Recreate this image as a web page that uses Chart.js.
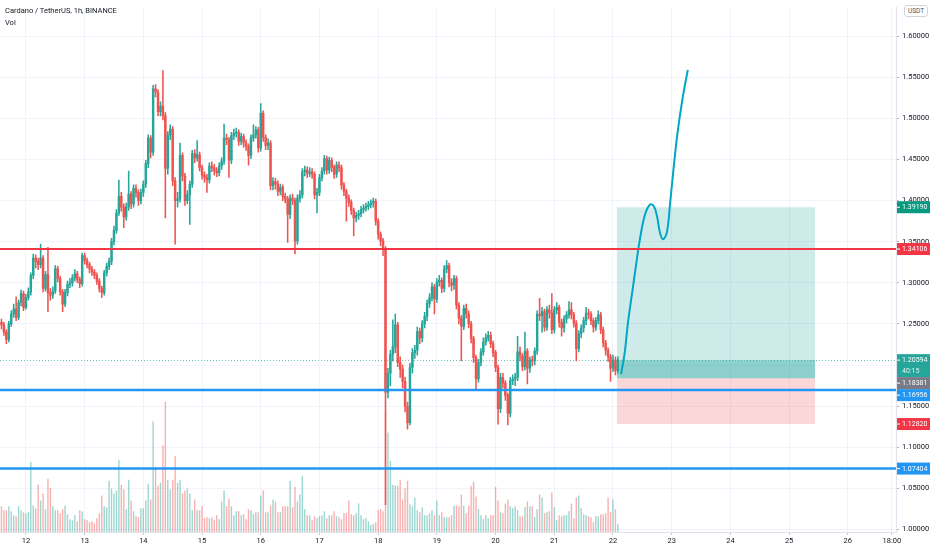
<!DOCTYPE html>
<html>
<head>
<meta charset="utf-8">
<title>Cardano / TetherUS 1h</title>
<script src="https://cdn.jsdelivr.net/npm/chart.js@4.4.1/dist/chart.umd.min.js"></script>
<style>
  html, body { margin: 0; padding: 0; background: #fff; }
  #wrap { position: relative; width: 932px; height: 550px; }
  #title { position: absolute; left: 5px; top: 5px; font: 7.5px Roboto, sans-serif; color: #131722; line-height: 12px; }
  #usdt { position: absolute; left: 904px; top: 5px; padding: 1px 3px; border: 1px solid #d1d4dc; border-radius: 3px;
          font: 6.5px Roboto, sans-serif; color: #50535e; background: #fff; }
</style>
</head>
<body>
<div id="wrap">
  <canvas id="chart"></canvas>
  <div id="title">Cardano / TetherUS, 1h, BINANCE<br>Vol</div>
  <div id="usdt">USDT</div>
</div>
<script>
    "use strict";

    // 1h candles, index 0 = the 11th 14:00, index 10 = the 12th 00:00
    var firstOpen = 1.252;
    var closes = [
        1.249, 1.240, 1.231, 1.250, 1.262, 1.268, 1.258, 1.276, 1.287, 1.270,
        1.282, 1.289, 1.309, 1.330, 1.326, 1.322, 1.330, 1.293, 1.310, 1.288,
        1.285, 1.290, 1.317, 1.305, 1.289, 1.274, 1.288, 1.298, 1.300, 1.306,
        1.311, 1.304, 1.299, 1.333, 1.327, 1.322, 1.317, 1.313, 1.309, 1.302,
        1.293, 1.288, 1.312, 1.320, 1.326, 1.350, 1.364, 1.385, 1.405, 1.392,
        1.380, 1.392, 1.408, 1.396, 1.415, 1.410, 1.400, 1.410, 1.420, 1.445,
        1.476, 1.459, 1.536, 1.532, 1.508, 1.515, 1.503, 1.439, 1.480, 1.487,
        1.424, 1.400, 1.402, 1.455, 1.430, 1.400, 1.407, 1.420, 1.457, 1.452,
        1.456, 1.440, 1.431, 1.428, 1.425, 1.442, 1.440, 1.436, 1.434, 1.442,
        1.448, 1.476, 1.474, 1.449, 1.479, 1.482, 1.483, 1.472, 1.478, 1.470,
        1.466, 1.455, 1.476, 1.480, 1.486, 1.464, 1.506, 1.477, 1.467, 1.470,
        1.418, 1.423, 1.420, 1.411, 1.416, 1.405, 1.402, 1.383, 1.403, 1.400,
        1.351, 1.403, 1.407, 1.435, 1.437, 1.433, 1.435, 1.432, 1.407, 1.410,
        1.428, 1.436, 1.451, 1.437, 1.449, 1.440, 1.432, 1.443, 1.440, 1.419,
        1.411, 1.403, 1.398, 1.388, 1.379, 1.382, 1.384, 1.389, 1.391, 1.393,
        1.395, 1.397, 1.399, 1.375, 1.359, 1.351, 1.341, 1.167, 1.190, 1.213,
        1.222, 1.249, 1.203, 1.195, 1.180, 1.150, 1.130, 1.197, 1.215, 1.218,
        1.241, 1.233, 1.250, 1.259, 1.275, 1.282, 1.295, 1.280, 1.301, 1.303,
        1.293, 1.317, 1.321, 1.300, 1.297, 1.305, 1.273, 1.257, 1.247, 1.269,
        1.262, 1.250, 1.232, 1.209, 1.183, 1.203, 1.216, 1.228, 1.233, 1.236,
        1.226, 1.215, 1.197, 1.147, 1.185, 1.178, 1.163, 1.141, 1.181, 1.183,
        1.185, 1.216, 1.211, 1.198, 1.217, 1.196, 1.206, 1.205, 1.217, 1.262,
        1.260, 1.265, 1.246, 1.267, 1.263, 1.243, 1.267, 1.270, 1.252, 1.245,
        1.256, 1.261, 1.267, 1.261, 1.251, 1.220, 1.238, 1.245, 1.254, 1.263,
        1.262, 1.254, 1.246, 1.254, 1.261, 1.243, 1.227, 1.218, 1.210, 1.196,
        1.206, 1.193, 1.20594
    ];
    var highs = [
        1.256, 1.252, 1.243, 1.253, 1.266, 1.274, 1.283, 1.279, 1.291, 1.290,
        1.286, 1.294, 1.312, 1.335, 1.334, 1.330, 1.347, 1.333, 1.314, 1.343,
        1.293, 1.295, 1.321, 1.320, 1.308, 1.292, 1.292, 1.302, 1.305, 1.310,
        1.316, 1.314, 1.307, 1.336, 1.336, 1.330, 1.325, 1.320, 1.316, 1.312,
        1.305, 1.296, 1.315, 1.324, 1.330, 1.354, 1.369, 1.389, 1.425, 1.410,
        1.396, 1.397, 1.436, 1.411, 1.419, 1.419, 1.413, 1.414, 1.424, 1.449,
        1.480, 1.479, 1.540, 1.541, 1.535, 1.520, 1.558, 1.507, 1.484, 1.492,
        1.490, 1.428, 1.410, 1.470, 1.458, 1.433, 1.412, 1.424, 1.461, 1.462,
        1.473, 1.459, 1.443, 1.435, 1.432, 1.446, 1.447, 1.444, 1.440, 1.446,
        1.452, 1.493, 1.481, 1.477, 1.483, 1.487, 1.488, 1.486, 1.482, 1.481,
        1.474, 1.469, 1.480, 1.492, 1.490, 1.489, 1.518, 1.509, 1.480, 1.475,
        1.473, 1.428, 1.427, 1.424, 1.420, 1.419, 1.409, 1.405, 1.407, 1.408,
        1.403, 1.407, 1.412, 1.439, 1.442, 1.441, 1.440, 1.439, 1.435, 1.415,
        1.432, 1.440, 1.455, 1.454, 1.453, 1.452, 1.443, 1.447, 1.447, 1.443,
        1.422, 1.414, 1.407, 1.401, 1.391, 1.386, 1.388, 1.393, 1.395, 1.397,
        1.399, 1.401, 1.403, 1.402, 1.378, 1.362, 1.354, 1.344, 1.196, 1.218,
        1.255, 1.262, 1.252, 1.210, 1.200, 1.185, 1.155, 1.202, 1.220, 1.224,
        1.246, 1.245, 1.254, 1.264, 1.279, 1.287, 1.300, 1.298, 1.305, 1.309,
        1.306, 1.321, 1.327, 1.324, 1.305, 1.309, 1.308, 1.276, 1.260, 1.273,
        1.274, 1.266, 1.253, 1.235, 1.212, 1.207, 1.220, 1.233, 1.238, 1.241,
        1.240, 1.229, 1.218, 1.200, 1.190, 1.190, 1.181, 1.166, 1.185, 1.188,
        1.190, 1.235, 1.222, 1.214, 1.240, 1.220, 1.210, 1.211, 1.221, 1.266,
        1.281, 1.270, 1.268, 1.271, 1.273, 1.287, 1.271, 1.276, 1.273, 1.256,
        1.260, 1.265, 1.277, 1.276, 1.264, 1.254, 1.242, 1.249, 1.258, 1.270,
        1.268, 1.265, 1.257, 1.258, 1.266, 1.264, 1.246, 1.230, 1.221, 1.213,
        1.212, 1.210, 1.210
    ];
    var lows = [
        1.244, 1.236, 1.226, 1.228, 1.247, 1.258, 1.254, 1.255, 1.272, 1.266,
        1.268, 1.279, 1.285, 1.305, 1.318, 1.316, 1.318, 1.289, 1.290, 1.265,
        1.279, 1.281, 1.287, 1.301, 1.285, 1.265, 1.271, 1.284, 1.294, 1.296,
        1.302, 1.300, 1.294, 1.296, 1.323, 1.318, 1.312, 1.309, 1.305, 1.298,
        1.289, 1.282, 1.285, 1.308, 1.316, 1.322, 1.346, 1.360, 1.382, 1.387,
        1.367, 1.376, 1.388, 1.390, 1.392, 1.404, 1.394, 1.396, 1.405, 1.416,
        1.440, 1.452, 1.455, 1.526, 1.503, 1.503, 1.498, 1.379, 1.432, 1.474,
        1.418, 1.347, 1.392, 1.398, 1.424, 1.394, 1.396, 1.371, 1.416, 1.446,
        1.448, 1.436, 1.426, 1.422, 1.410, 1.421, 1.435, 1.431, 1.429, 1.430,
        1.438, 1.444, 1.468, 1.428, 1.445, 1.474, 1.477, 1.467, 1.468, 1.465,
        1.461, 1.443, 1.451, 1.472, 1.476, 1.459, 1.460, 1.472, 1.462, 1.462,
        1.413, 1.413, 1.414, 1.406, 1.407, 1.400, 1.397, 1.349, 1.378, 1.395,
        1.335, 1.347, 1.398, 1.403, 1.430, 1.428, 1.429, 1.427, 1.402, 1.385,
        1.406, 1.424, 1.432, 1.432, 1.433, 1.435, 1.427, 1.428, 1.435, 1.414,
        1.406, 1.375, 1.393, 1.383, 1.357, 1.374, 1.377, 1.380, 1.385, 1.387,
        1.389, 1.391, 1.392, 1.370, 1.353, 1.345, 1.333, 1.030, 1.160, 1.175,
        1.205, 1.215, 1.198, 1.185, 1.172, 1.143, 1.122, 1.127, 1.190, 1.208,
        1.212, 1.226, 1.228, 1.245, 1.254, 1.270, 1.278, 1.262, 1.276, 1.296,
        1.288, 1.289, 1.312, 1.295, 1.290, 1.292, 1.268, 1.250, 1.205, 1.243,
        1.257, 1.245, 1.227, 1.203, 1.171, 1.179, 1.199, 1.212, 1.224, 1.229,
        1.221, 1.210, 1.192, 1.128, 1.142, 1.172, 1.157, 1.127, 1.137, 1.176,
        1.175, 1.181, 1.205, 1.193, 1.194, 1.177, 1.191, 1.199, 1.200, 1.213,
        1.254, 1.240, 1.241, 1.242, 1.257, 1.238, 1.239, 1.262, 1.246, 1.235,
        1.240, 1.251, 1.257, 1.256, 1.246, 1.205, 1.216, 1.233, 1.240, 1.249,
        1.256, 1.249, 1.240, 1.242, 1.250, 1.238, 1.222, 1.212, 1.204, 1.180,
        1.192, 1.188, 1.190
    ];
    // volume, arbitrary units (only relative heights matter, axis is hidden)
    var volumes = [
        26, 22, 22, 26, 21, 17, 16, 26, 22, 20,
        19, 20, 71, 27, 24, 48, 32, 39, 23, 54,
        45, 26, 22, 22, 19, 23, 27, 18, 13, 12,
        17, 11, 22, 21, 13, 12, 10, 11, 9, 14,
        19, 37, 26, 25, 52, 44, 39, 42, 73, 48,
        43, 23, 53, 32, 21, 16, 15, 24, 24, 32,
        49, 33, 112, 66, 47, 50, 88, 132, 53, 43,
        53, 77, 50, 53, 39, 42, 44, 39, 22, 33,
        22, 22, 26, 14, 15, 14, 15, 12, 17, 13,
        31, 42, 26, 34, 26, 17, 21, 21, 17, 18,
        13, 23, 22, 18, 20, 20, 37, 42, 20, 20,
        27, 33, 31, 20, 20, 26, 26, 26, 52, 25,
        46, 31, 38, 57, 23, 17, 17, 12, 16, 14,
        16, 17, 21, 14, 17, 17, 21, 16, 15, 13,
        19, 19, 32, 18, 17, 19, 29, 17, 13, 14,
        11, 7, 8, 10, 22, 23, 21, 122, 101, 72,
        48, 47, 47, 53, 33, 44, 52, 28, 26, 35,
        22, 20, 25, 17, 17, 19, 22, 17, 32, 17,
        20, 15, 15, 15, 17, 27, 27, 26, 38, 27,
        19, 27, 47, 51, 36, 23, 17, 13, 17, 14,
        17, 17, 46, 32, 20, 19, 29, 33, 26, 24,
        26, 22, 16, 16, 25, 31, 26, 26, 15, 23,
        38, 35, 19, 20, 21, 40, 25, 12, 17, 16,
        17, 17, 21, 29, 14, 35, 37, 24, 18, 17,
        16, 15, 10, 16, 16, 18, 18, 19, 35, 20,
        33, 23, 8
    ];
    // binance hourly candles open at the previous close
    var opens = [firstOpen].concat(closes.slice(0, -1));

    var dayTickHours = [10, 34, 58, 82, 106, 130, 154, 178, 202, 226, 250, 274, 298, 322, 346, 364];
    var dayLabels = ['12', '13', '14', '15', '16', '17', '18', '19', '20', '21', '22', '23', '24', '25', '26', '18:00'];
    var priceTicks = [1.00, 1.05, 1.10, 1.15, 1.20, 1.25, 1.30, 1.35, 1.40, 1.45, 1.50, 1.55, 1.60];

    // drawn levels
    var redLevels = [1.34106];
    var blueLevels = [1.16956, 1.07404];

    // long position tool
    var positionHours = [251.6, 332.6];
    var targetPrice = 1.39190;
    var entryPrice = 1.18381;
    var stopPrice = 1.12820;
    var lastPrice = 1.20594;
    var countdown = '40:15';

    // hand drawn projection
    var curveHours = [253.3, 254.8, 256.1, 257.8, 259.4, 261.0, 263.1, 265.1, 266.7, 268.0, 269.2, 270.4, 272.0, 273.3, 274.9, 276.5, 278.6, 280.6];
    var curvePrices = [1.189, 1.215, 1.251, 1.287, 1.321, 1.353, 1.383, 1.395, 1.393, 1.381, 1.361, 1.353, 1.361, 1.395, 1.443, 1.485, 1.527, 1.559];

    var UP = '#26a69a', DOWN = '#ef5350';
    var FONT = 'Roboto, sans-serif';

    var hours = closes.map(function (c, i) { return i; });
    var isUp = closes.map(function (c, i) { return c >= opens[i]; });

    // draws the position box, the levels and the price labels on the axis
    var drawings = {
        id: 'drawings',
        beforeDatasetsDraw: function (chart) {
            var ctx = chart.ctx, a = chart.chartArea, x = chart.scales.x, y = chart.scales.y;
            ctx.save();
            ctx.beginPath();
            ctx.rect(a.left, a.top, a.width, a.height);
            ctx.clip();
            var x0 = x.getPixelForValue(positionHours[0]);
            var x1 = x.getPixelForValue(positionHours[1]);
            var yT = y.getPixelForValue(targetPrice);
            var yE = y.getPixelForValue(entryPrice);
            var yS = y.getPixelForValue(stopPrice);
            var yL = y.getPixelForValue(lastPrice);
            ctx.fillStyle = 'rgba(38, 166, 154, 0.22)';
            ctx.fillRect(x0, yT, x1 - x0, yE - yT);
            ctx.fillStyle = 'rgba(38, 166, 154, 0.38)';
            ctx.fillRect(x0, yL, x1 - x0, yE - yL);
            ctx.fillStyle = 'rgba(242, 54, 69, 0.2)';
            ctx.fillRect(x0, yE, x1 - x0, yS - yE);

            // last price line
            ctx.strokeStyle = 'rgba(38, 166, 154, 0.7)';
            ctx.lineWidth = 1;
            ctx.setLineDash([1, 2]);
            ctx.beginPath();
            ctx.moveTo(a.left, Math.round(yL) + 0.5);
            ctx.lineTo(a.right, Math.round(yL) + 0.5);
            ctx.stroke();
            ctx.restore();
        },
        afterDatasetsDraw: function (chart) {
            var ctx = chart.ctx, a = chart.chartArea, y = chart.scales.y;
            ctx.save();
            function level(p, color, w) {
                var py = y.getPixelForValue(p);
                ctx.strokeStyle = color;
                ctx.lineWidth = w;
                ctx.beginPath();
                ctx.moveTo(a.left, py);
                ctx.lineTo(a.right, py);
                ctx.stroke();
            }
            redLevels.forEach(function (p) { level(p, '#f23645', 2); });
            blueLevels.forEach(function (p) { level(p, '#2196f3', 2.5); });
            ctx.restore();
        },
        afterDraw: function (chart) {
            var ctx = chart.ctx, a = chart.chartArea, y = chart.scales.y;
            var tags = [
                { price: targetPrice, bg: '#089981' },
                { price: redLevels[0], bg: '#f23645' },
                { price: lastPrice, bg: '#26a69a', sub: countdown },
                { price: entryPrice, bg: '#787b86' },
                { price: blueLevels[0], bg: '#2196f3' },
                { price: stopPrice, bg: '#f23645' },
                { price: blueLevels[1], bg: '#2196f3' }
            ];
            ctx.save();
            ctx.font = '7px ' + FONT;
            ctx.textBaseline = 'middle';
            var prevBottom = -Infinity;
            tags.forEach(function (t) {
                var py = y.getPixelForValue(t.price);
                var h = t.sub ? 23 : 12;
                var top = Math.max(py - 6, prevBottom);
                prevBottom = top + h;
                ctx.fillStyle = t.bg;
                ctx.fillRect(a.right + 1, top, 33, h);
                ctx.fillStyle = '#fff';
                ctx.fillRect(a.right + 1, top + 5.5, 3, 1);
                ctx.fillText(t.price.toFixed(5), a.right + 6, top + 6.5);
                if (t.sub) {
                    ctx.fillStyle = 'rgba(255, 255, 255, 0.85)';
                    ctx.fillText(t.sub, a.right + 6, top + 17);
                }
            });
            ctx.restore();
        }
    };

    var ctx = document.getElementById('chart').getContext('2d');
    var chart = new Chart(ctx, {
        type: 'bar',
        data: {
            datasets: [{
                type: 'line',
                label: 'Projection',
                data: curveHours.map(function (h, k) { return { x: h, y: curvePrices[k] }; }),
                borderColor: '#00a6c6',
                borderWidth: 2,
                tension: 0.4,
                pointRadius: 0,
                fill: false,
                order: 0
            }, {
                label: 'Body',
                data: hours.map(function (i) { return { x: i, y: [opens[i], closes[i]] }; }),
                backgroundColor: isUp.map(function (u) { return u ? UP : DOWN; }),
                barThickness: 1.8,
                minBarLength: 1,
                grouped: false,
                order: 1
            }, {
                label: 'Wick',
                data: hours.map(function (i) { return { x: i, y: [lows[i], highs[i]] }; }),
                backgroundColor: isUp.map(function (u) { return u ? UP : DOWN; }),
                barThickness: 0.9,
                grouped: false,
                order: 2
            }, {
                label: 'Vol',
                yAxisID: 'vol',
                data: hours.map(function (i) { return { x: i, y: volumes[i] }; }),
                backgroundColor: isUp.map(function (u) {
                    return u ? 'rgba(38, 166, 154, 0.45)' : 'rgba(239, 83, 80, 0.45)';
                }),
                barThickness: 1.4,
                inflateAmount: 0,
                grouped: false,
                order: 3
            }]
        },
        options: {
            responsive: true,
            maintainAspectRatio: false,
            animation: false,
            layout: { padding: 0 },
            plugins: {
                legend: { display: false },
                tooltip: { enabled: false }
            },
            scales: {
                x: {
                    type: 'linear',
                    min: -0.6,
                    max: 365.7,
                    offset: false,
                    grid: { offset: false, color: '#f0f3fa', tickColor: '#c9cbd3', tickLength: 3 },
                    border: { color: '#e0e3eb' },
                    ticks: {
                        autoSkip: false,
                        maxRotation: 0,
                        padding: 2,
                        color: '#131722',
                        font: { size: 7.5, family: FONT },
                        callback: function (value, index) { return dayLabels[index]; }
                    },
                    afterBuildTicks: function (scale) {
                        scale.ticks = dayTickHours.map(function (v) { return { value: v }; });
                    },
                    afterFit: function (scale) { scale.height = 18; }
                },
                y: {
                    type: 'linear',
                    position: 'right',
                    min: 0.9969,
                    max: 1.6348,
                    grid: { color: '#f0f3fa', tickColor: '#b2b5be', tickLength: 3 },
                    border: { color: '#e0e3eb' },
                    ticks: {
                        autoSkip: false,
                        padding: 3,
                        color: '#131722',
                        font: { size: 7.5, family: FONT },
                        callback: function (value) { return Number(value).toFixed(5); }
                    },
                    afterBuildTicks: function (scale) {
                        scale.ticks = priceTicks.map(function (v) { return { value: v }; });
                    },
                    afterFit: function (scale) { scale.width = 36; }
                },
                vol: {
                    type: 'linear',
                    display: false,
                    min: 0,
                    max: 532
                }
            }
        },
        plugins: [drawings]
    });
</script>
</body>
</html>
